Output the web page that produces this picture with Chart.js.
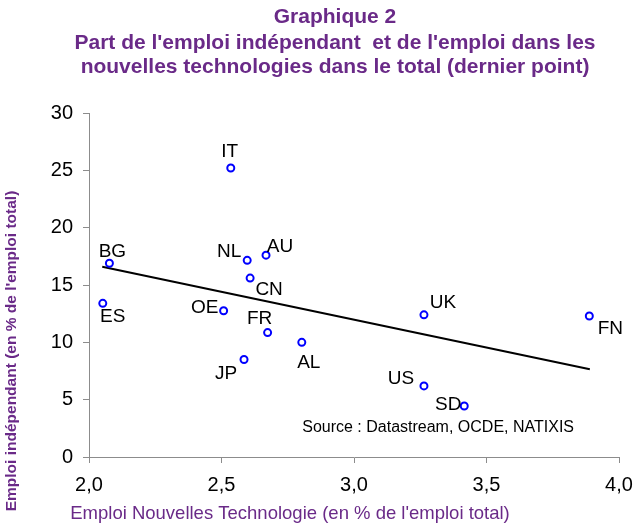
<!DOCTYPE html>
<html>
<head>
<meta charset="utf-8">
<script src="https://cdn.jsdelivr.net/npm/chart.js@4/dist/chart.umd.min.js"></script>
<style>
  html, body { margin: 0; padding: 0; background: #fff; }
  #wrap { width: 636px; height: 526px; }
</style>
</head>
<body>
<div id="wrap"><canvas id="scatterChart" width="636" height="526"></canvas></div>
<script>
// pays (libellés du graphique)
const countries = ["IT", "BG", "ES", "NL", "AU", "CN", "OE", "FR", "AL", "JP", "UK", "FN", "US", "SD"];
// emploi nouvelles technologies (% de l'emploi total)
const techShare = [2.535, 2.077, 2.052, 2.597, 2.668, 2.608, 2.508, 2.674, 2.803, 2.585, 3.264, 3.888, 3.264, 3.416];
// emploi indépendant (% de l'emploi total)
const selfEmployed = [25.2, 16.9, 13.4, 17.15, 17.6, 15.6, 12.75, 10.85, 10.0, 8.5, 12.4, 12.3, 6.2, 4.45];
// droite de tendance (début / fin)
const trendX = [2.05, 3.89];
const trendY = [16.6, 7.65];
const xTicks = [2.0, 2.5, 3.0, 3.5, 4.0];
const yTicks = [0, 5, 10, 15, 20, 25, 30];

// décalage des étiquettes par rapport au point (px)
const labelOffsets = {
  IT: [-1, -16], BG: [3, -11], ES: [10, 13], NL: [-18, -9], AU: [14, -8],
  CN: [19, 12], OE: [-19, -3], FR: [-8, -14], AL: [7, 20], JP: [-18, 14],
  UK: [19, -12], FN: [21, 13], US: [-23, -7], SD: [-16, -1]
};

const purple = "#6a2a88";
const fontFamily = "'Liberation Sans', Arial, sans-serif";

const textPlugin = {
  id: "textPlugin",
  afterDatasetsDraw(chart) {
    const ctx = chart.ctx;
    const meta = chart.getDatasetMeta(0);
    ctx.save();
    ctx.fillStyle = "#000";
    ctx.font = "19px " + fontFamily;
    ctx.textAlign = "center";
    ctx.textBaseline = "middle";
    meta.data.forEach((pt, i) => {
      const off = labelOffsets[countries[i]] || [0, -14];
      ctx.fillText(countries[i], pt.x + off[0], pt.y + off[1]);
    });

    // source
    const area = chart.chartArea;
    ctx.font = "16px " + fontFamily;
    ctx.textAlign = "right";
    ctx.fillText("Source : Datastream, OCDE, NATIXIS", area.right - 45, area.bottom - 29);

    // titre
    ctx.fillStyle = purple;
    ctx.textAlign = "center";
    ctx.font = "bold 21px " + fontFamily;
    ctx.fillText("Graphique 2", 335, 17);
    ctx.fillText("Part de l'emploi indépendant  et de l'emploi dans les", 335, 43);
    ctx.fillText("nouvelles technologies dans le total (dernier point)", 335, 67);

    // titres des axes
    ctx.font = "18.5px " + fontFamily;
    ctx.fillText("Emploi Nouvelles Technologie (en % de l'emploi total)", 290, 514);
    ctx.save();
    ctx.translate(12, 351);
    ctx.rotate(-Math.PI / 2);
    ctx.font = "bold 15.5px " + fontFamily;
    ctx.fillText("Emploi indépendant (en % de l'emploi total)", 0, 0);
    ctx.restore();
    ctx.restore();
  }
};

const ctx = document.getElementById("scatterChart").getContext("2d");
new Chart(ctx, {
  type: "scatter",
  data: {
    datasets: [{
      label: "Pays",
      data: countries.map((c, i) => ({ x: techShare[i], y: selfEmployed[i] })),
      pointRadius: 3.5,
      pointBorderWidth: 2,
      borderColor: "#0000ff",
      backgroundColor: "#ffffff",
      order: 1
    }, {
      type: "line",
      label: "Tendance",
      data: trendX.map((x, i) => ({ x: x, y: trendY[i] })),
      borderColor: "#000",
      borderWidth: 2,
      pointRadius: 0,
      fill: false,
      order: 2
    }]
  },
  options: {
    responsive: false,
    animation: false,
    layout: { padding: { top: 113, right: 17, left: 0, bottom: 0 } },
    plugins: {
      legend: { display: false },
      tooltip: { enabled: false }
    },
    scales: {
      x: {
        type: "linear",
        min: 2, max: 4,
        afterBuildTicks: (scale) => { scale.ticks = xTicks.map(v => ({ value: v })); },
        afterFit: (scale) => {
          scale.height = 69;
          scale.paddingLeft = 0;
          scale.paddingRight = 0;
        },
        grid: { drawOnChartArea: false, drawTicks: true, tickLength: 6, color: "#8c8c8c" },
        border: { color: "#8c8c8c", width: 1 },
        ticks: {
          color: "#000",
          padding: 10,
          font: { size: 20, family: fontFamily },
          callback: (v) => Number(v).toFixed(1).replace(".", ",")
        }
      },
      y: {
        min: 0, max: 30,
        afterBuildTicks: (scale) => { scale.ticks = yTicks.map(v => ({ value: v })); },
        afterFit: (scale) => { scale.width = 89; },
        grid: { drawOnChartArea: false, drawTicks: true, tickLength: 6, color: "#8c8c8c" },
        border: { color: "#8c8c8c", width: 1 },
        ticks: {
          color: "#000",
          padding: 10,
          font: { size: 20, family: fontFamily }
        }
      }
    }
  },
  plugins: [textPlugin]
});
</script>
</body>
</html>
